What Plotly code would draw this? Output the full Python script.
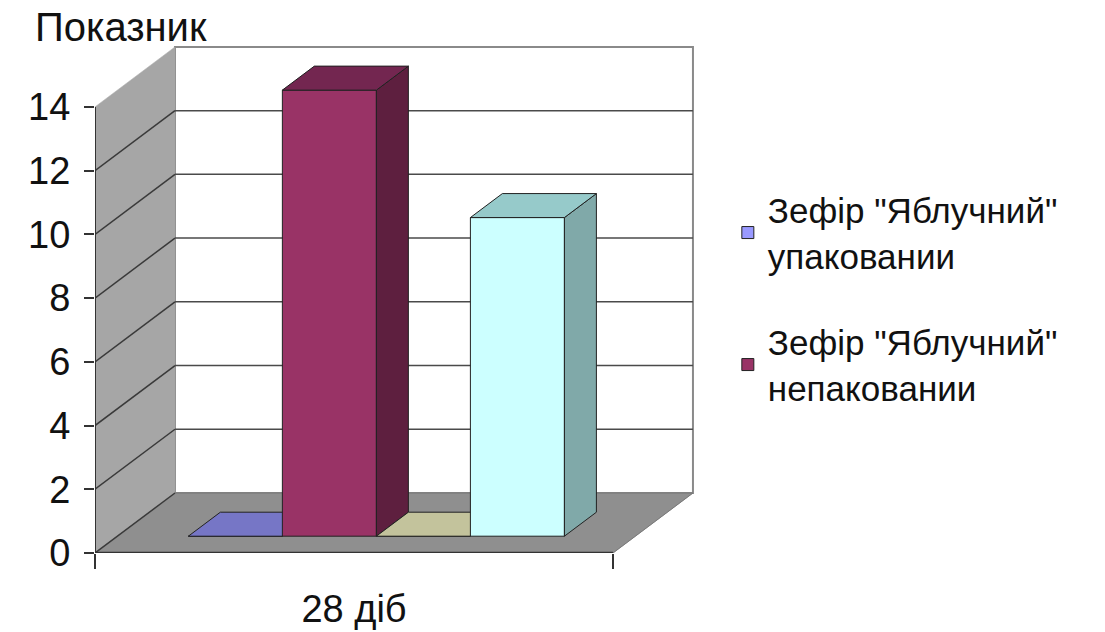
import plotly.graph_objects as go

# ---------------- data ----------------
categories = ["28 діб"]
series_names = ['Зефір "Яблучний"<br>упаковании',
                'Зефір "Яблучний"<br>непаковании',
                'Серія 3', 'Серія 4']
values = [0, 14, 0, 10]
show_in_legend = [True, True, False, False]
y_ticks = [0, 2, 4, 6, 8, 10, 12, 14]
y_title = "Показник"

# ---------------- style ----------------
front_colors = ["#9999FF", "#993366", "#FFFFCC", "#CCFFFF"]
top_colors = ["#7676C6", "#732650", "#C3C39C", "#96CACA"]
side_colors = ["#5C5C99", "#5E1F3F", "#99997A", "#80A9A9"]
FONT = "Liberation Sans, Arial, sans-serif"
TXT = "#111111"

# 3-D projection (in axis data units)
DX = 0.1544          # depth shift in x units
DY = 1.883           # depth shift in y units
Z0, Z1 = 0.28, 0.68  # bar depth range
BAR_W = 0.1815
GAP = (1 - BAR_W * len(values)) / 2
Y_MAX = y_ticks[-1]
XR = [0, 1.168]
YR = [0, 16.1]

fig = go.Figure()

def poly(xs, ys, fill, line="#222222", lw=1, xa="x", ya="y"):
    fig.add_trace(go.Scatter(x=xs + [xs[0]], y=ys + [ys[0]], mode="lines",
                             fill="toself", fillcolor=fill,
                             line=dict(color=line, width=lw),
                             hoverinfo="skip", showlegend=False,
                             xaxis=xa, yaxis=ya))

def seg(x0, y0, x1, y1, color="#3a3a3a", lw=1.5, xa="x", ya="y"):
    fig.add_trace(go.Scatter(x=[x0, x1], y=[y0, y1], mode="lines",
                             line=dict(color=color, width=lw),
                             hoverinfo="skip", showlegend=False,
                             xaxis=xa, yaxis=ya))

# back wall
poly([DX, 1 + DX, 1 + DX, DX], [DY, DY, DY + Y_MAX, DY + Y_MAX],
     "#FFFFFF", line="#8a8a8a", lw=2)
# left wall
poly([0, DX, DX, 0], [0, DY, DY + Y_MAX, Y_MAX], "#A6A6A6", line="#A6A6A6", lw=0.5)
# floor
poly([0, 1, 1 + DX, DX], [0, 0, DY, DY], "#8F8F8F", line="#8F8F8F", lw=0.5)

# gridlines (back wall + left wall diagonals)
for k in y_ticks[:-1]:
    if k > 0:
        seg(DX, DY + k, 1 + DX, DY + k, color="#4a4a4a", lw=1.5)
    seg(0, k, DX, DY + k, color="#3a3a3a", lw=1.5)
seg(DX, DY, 1 + DX, DY, color="#777777", lw=1)
seg(1, 0, 1 + DX, DY, color="#777777", lw=1)
# axis lines
seg(0, 0, 0, Y_MAX, color="#333333", lw=2)
seg(0, 0, 1, 0, color="#333333", lw=2.5)

# bars (each on its own overlay so later bars paint over earlier ones)
for i, (name, v) in enumerate(zip(series_names, values)):
    xa, ya = f"x{i + 2}", f"y{i + 2}"
    xl = GAP + i * BAR_W
    xr = xl + BAR_W
    fig.add_trace(go.Bar(x=[xl + BAR_W / 2 + DX * Z0], y=[v], base=[DY * Z0],
                         width=[BAR_W], name=name,
                         marker=dict(color=front_colors[i],
                                     line=dict(color="#222222", width=1)),
                         showlegend=show_in_legend[i], legendgroup=f"g{i}",
                         hoverinfo="skip", xaxis=xa, yaxis=ya))
    # side face
    poly([xr + DX * Z0, xr + DX * Z1, xr + DX * Z1, xr + DX * Z0],
         [DY * Z0, DY * Z1, v + DY * Z1, v + DY * Z0],
         side_colors[i], xa=xa, ya=ya)
    # top face
    poly([xl + DX * Z0, xr + DX * Z0, xr + DX * Z1, xl + DX * Z1],
         [v + DY * Z0, v + DY * Z0, v + DY * Z1, v + DY * Z1],
         top_colors[i], xa=xa, ya=ya)

layout = dict(
    width=1105, height=632,
    margin=dict(l=95, r=1105 - 700, t=40, b=632 - 553, autoexpand=False),
    paper_bgcolor="#FFFFFF", plot_bgcolor="rgba(0,0,0,0)",
    font=dict(family=FONT, color=TXT),
    barmode="overlay",
    title=dict(text=y_title, x=35 / 1105, xref="container", xanchor="left",
               y=1 - 27 / 632, yref="container", yanchor="middle",
               font=dict(size=40, family=FONT, color=TXT)),
    xaxis=dict(range=XR, tickvals=[0, 1], ticktext=["", ""], ticks="outside",
               ticklen=15, tickwidth=2, tickcolor="#333333", showgrid=False,
               zeroline=False, showline=False, fixedrange=True, automargin=False),
    yaxis=dict(range=YR, tickvals=y_ticks, ticks="outside", ticklen=10,
               tickwidth=2, tickcolor="#333333", showgrid=False, zeroline=False,
               showline=False, tickfont=dict(size=38, family=FONT, color=TXT),
               ticklabelstandoff=6, fixedrange=True, automargin=False),
    legend=dict(x=1.046, y=0.726, xanchor="left", yanchor="top",
                font=dict(size=35, family=FONT, color=TXT),
                tracegroupgap=38, bgcolor="rgba(0,0,0,0)"),
    showlegend=True,
)
for i in range(len(values)):
    n = i + 2
    layout[f"xaxis{n}"] = dict(range=XR, overlaying="x", visible=False,
                               fixedrange=True, automargin=False)
    layout[f"yaxis{n}"] = dict(range=YR, overlaying="y", visible=False,
                               fixedrange=True, automargin=False)
# category label on first overlay axis
layout["xaxis2"].update(visible=True, tickvals=[0.5], ticktext=categories,
                        ticks="outside", ticklen=22, tickcolor="rgba(0,0,0,0)",
                        showgrid=False, zeroline=False, showline=False,
                        tickfont=dict(size=38, family=FONT, color=TXT))
fig.update_layout(**layout)

fig.write_html("out.html")
